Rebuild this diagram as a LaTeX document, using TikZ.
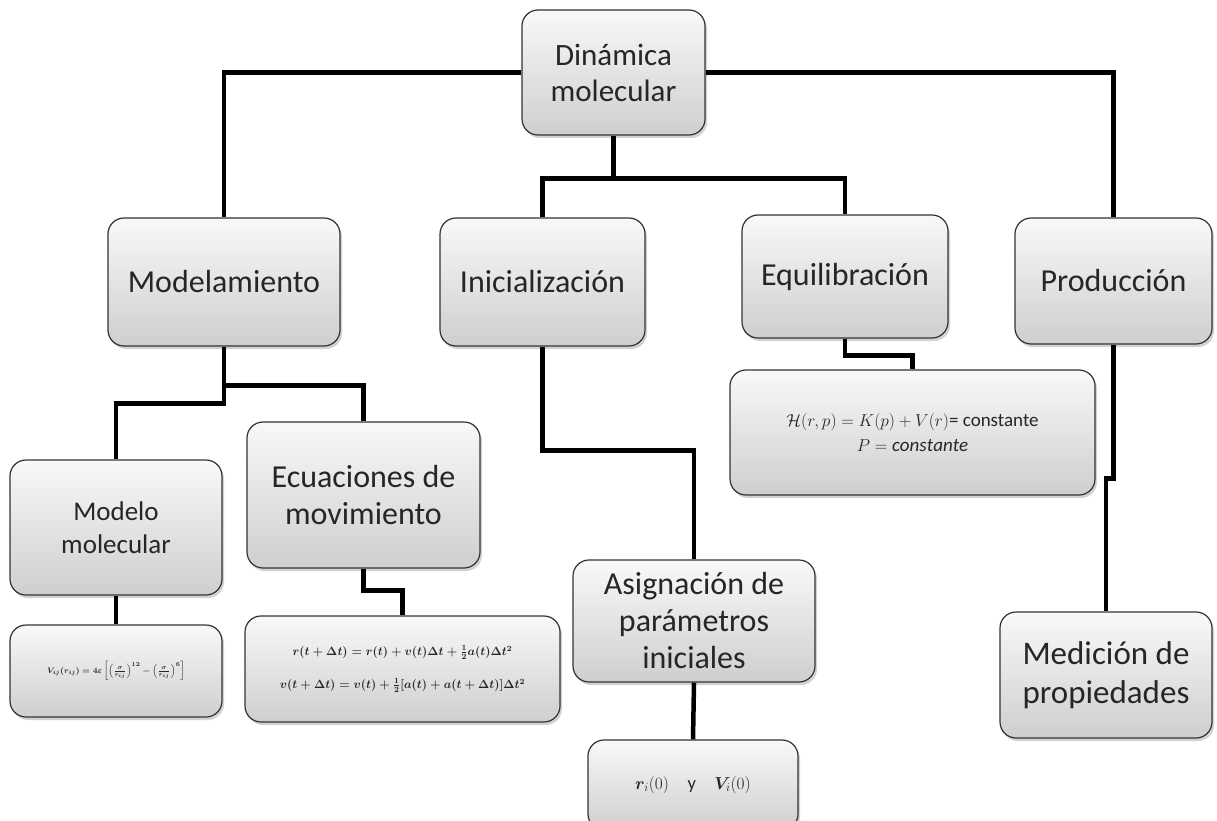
\documentclass[tikz,border=0pt]{standalone}
\usepackage{amsmath,bm}
\usepackage{fontspec}
\setmainfont{Carlito}
\usetikzlibrary{shadows}

\tikzset{
  box/.style={draw=black!80, line width=1.2pt, rounded corners=16pt,
    top color=gray!5, bottom color=gray!38,
    drop shadow={shadow xshift=2pt, shadow yshift=-3pt, opacity=.35},
    align=center, text=black!85, inner sep=0pt,
    font=\fontsize{32}{37}\selectfont},
  link/.style={line width=4.5pt}
}

\begin{document}
\begin{tikzpicture}[x=1pt, y=-1pt]
    \path[use as bounding box, fill=white] (0,0) rectangle (1217,821);
    % upper row
    \node[box, minimum width=183pt, minimum height=125pt, font=\fontsize{31}{36}\selectfont] (dm) at (613.5,72.5) {Dinámica\\molecular};
    \node[box, minimum width=232pt, minimum height=128pt] (mod) at (224,282) {Modelamiento};
    \node[box, minimum width=205pt, minimum height=128pt] (ini) at (542.5,282) {Inicialización};
    \node[box, minimum width=206pt, minimum height=123pt] (equ) at (845,276.5) {Equilibración};
    \node[box, minimum width=197pt, minimum height=126pt] (pro) at (1113.5,281) {Producción};
    % lower boxes
    \node[box, minimum width=212pt, minimum height=135pt, font=\fontsize{27}{33}\selectfont] (mm) at (116,527.5) {Modelo\\molecular};
    \node[box, minimum width=233pt, minimum height=146pt] (ecu) at (363.5,495) {Ecuaciones de\\movimiento};
    \node[box, minimum width=242pt, minimum height=122pt] (asi) at (694,621) {Asignación de\\parámetros\\iniciales};
    \node[box, minimum width=212pt, minimum height=126pt, font=\fontsize{33}{39}\selectfont] (med) at (1106,675) {Medición de\\propiedades};
    % formula boxes
    \node[box, minimum width=212pt, minimum height=92pt, font=\fontsize{8}{10}\selectfont\boldmath] (fmm) at (116,671)
      {$V_{ij}(r_{ij}) = 4\varepsilon\left[\left(\frac{\sigma}{r_{ij}}\right)^{12} - \left(\frac{\sigma}{r_{ij}}\right)^{6}\right]$};
    \node[box, minimum width=315pt, minimum height=106pt, font=\fontsize{12}{25}\selectfont\boldmath] (fecu) at (402.5,669)
      {$r(t+\Delta t) = r(t) + v(t)\Delta t + \frac{1}{2}a(t)\Delta t^{2}$\\[8pt]
       $v(t+\Delta t) = v(t) + \frac{1}{2}[a(t) + a(t+\Delta t)]\Delta t^{2}$};
    \node[box, minimum width=365pt, minimum height=125pt, font=\fontsize{19}{25}\selectfont] (feq) at (912.5,432.5)
      {$\mathcal{H}(r,p) = K(p) + V(r)$= constante\\ $P = \mathit{constante}$};
    \node[box, minimum width=210pt, minimum height=90pt, font=\fontsize{18.5}{22}\selectfont] (rv) at (693,785)
      {$\bm{r}_i(0)$\quad y\quad $\bm{V}_i(0)$};
    % connectors
    \draw[link] (dm.west) -| (mod.north);
    \draw[link] (dm.east) -| (pro.north);
    \draw[link] (dm.south) -- ++(0,43) coordinate (d1);
    \draw[link] (ini.north) |- (d1) -| (equ.north);
    \draw[link] (mod.south) -- ++(0,57) -| (mm.north);
    \draw[link] ([yshift=-39pt]mod.south) -| (ecu.north);
    \draw[link] (mm.south) -- (fmm.north);
    \draw[link] (ecu.south) -- ++(0,22) -| (fecu.north);
    \draw[link] (ini.south) -- ++(0,104) -| (asi.north);
    \draw[link] (asi.south) -- (rv.north);
    \draw[link] (equ.south) -- ++(0,17) -| (feq.north);
    \draw[link] (pro.south) -- ++(0,134) -| (med.north);
\end{tikzpicture}
\end{document}
